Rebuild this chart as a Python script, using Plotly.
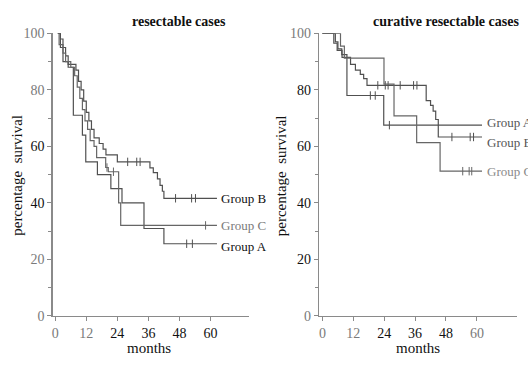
import plotly.graph_objects as go

# ---------------- data ----------------
month_ticks = [0, 12, 24, 36, 48, 60]
surv_ticks = [0, 20, 40, 60, 80, 100]
minor_surv_ticks = [10, 30, 50, 70, 90]

# left panel: resectable cases
left_A_t = [1, 2, 3, 5, 7, 10.5, 11.8, 16.3, 21.5, 25.8, 34.3, 42, 62.5]
left_A_s = [100, 95, 90, 88, 71, 64, 54.5, 50, 45, 40, 30.9, 25.5, 25.5]
left_A_cens_t = [50.8, 53]
left_A_cens_s = [25.5, 25.5]

left_B_t = [1, 2, 3, 4, 5, 8, 9, 10, 11, 12, 13, 14, 15, 17, 18.5, 19.6, 24,
            36.6, 37.9, 39.5, 40.5, 41.4, 42, 62.5]
left_B_s = [100, 98, 95, 92, 89, 87, 83, 80, 76, 72, 69, 66, 63, 61, 59, 57, 54.5,
            52.4, 50.7, 48.5, 46.2, 44.1, 41.6, 41.6]
left_B_cens_t = [28, 31.5, 32.8, 46.5, 52.7, 54.2]
left_B_cens_s = [54.5, 54.5, 54.5, 41.6, 41.6, 41.6]

left_C_t = [1, 1.5, 3, 4, 6, 7.5, 8.5, 9.5, 10.5, 11.5, 12.5, 13.5, 15, 16, 19.5, 20.5,
            24.5, 25.3, 62.5]
left_C_s = [100, 96, 93, 90, 88, 85, 81, 77, 73, 69, 66, 62, 60, 56, 52.5, 51,
            40, 32, 32]
left_C_cens_t = [20, 22.5, 58.1]
left_C_cens_s = [52.5, 51, 32]

# right panel: curative resectable cases
right_A_t = [0, 5, 6, 7.5, 9.5, 23.8, 62]
right_A_s = [100, 97, 94.5, 92.5, 78, 67.5, 67.5]
right_A_cens_t = [18.6, 20.5, 26]
right_A_cens_s = [78, 78, 67.5]

right_B_t = [0, 4.4, 5.7, 7.6, 10.9, 12.8, 14.7, 16, 17.3, 40.3, 42, 43, 44, 45, 62]
right_B_s = [100, 96.5, 94, 91.5, 89, 87, 85.5, 84, 81.6, 76.2, 74.5, 72.5, 69.5,
             63.3, 63.3]
right_B_cens_t = [21.5, 24.4, 25.5, 30.2, 35.4, 36.7, 50.3, 57.4, 58.7]
right_B_cens_s = [81.6, 81.6, 81.6, 81.6, 81.6, 81.6, 63.3, 63.3, 63.3]

right_C_t = [0, 7, 8.5, 23.9, 27.8, 36.6, 45.7, 62]
right_C_s = [100, 95.5, 91.2, 82, 70.8, 61.3, 51.2, 51.2]
right_C_cens_t = [54.5, 57, 58]
right_C_cens_s = [51.2, 51.2, 51.2]

left_labels = ["Group B", "Group C", "Group A"]
left_label_y = [41.6, 32, 24.5]
right_labels = ["Group A", "Group B", "Group C"]
right_label_y = [68.5, 61.5, 51]

panel_titles = ["resectable cases", "curative resectable cases"]

# ---------------- styling ----------------
LINE = "#505050"
AXIS = "#8a8a8a"
GRAY = "#7a7a7a"
SERIF = "Liberation Serif, Times New Roman, serif"

fig = go.Figure()


def add_curve(t, s, ct, cs, xa, ya, color=LINE):
    fig.add_trace(go.Scatter(x=t, y=s, mode="lines", line_shape="hv",
                             line=dict(color=color, width=1.2),
                             xaxis=xa, yaxis=ya, hoverinfo="skip"))
    fig.add_trace(go.Scatter(x=ct, y=cs, mode="markers",
                             marker=dict(symbol="line-ns", size=6,
                                         line=dict(color=color, width=1)),
                             xaxis=xa, yaxis=ya, hoverinfo="skip"))


add_curve(left_A_t, left_A_s, left_A_cens_t, left_A_cens_s, "x", "y")
add_curve(left_B_t, left_B_s, left_B_cens_t, left_B_cens_s, "x", "y")
add_curve(left_C_t, left_C_s, left_C_cens_t, left_C_cens_s, "x", "y", "#666666")
add_curve(right_A_t, right_A_s, right_A_cens_t, right_A_cens_s, "x2", "y2")
add_curve(right_B_t, right_B_s, right_B_cens_t, right_B_cens_s, "x2", "y2")
add_curve(right_C_t, right_C_s, right_C_cens_t, right_C_cens_s, "x2", "y2", "#666666")


def colored(vals, grays):
    out = []
    for v in vals:
        if v in grays:
            out.append("<span style='color:%s'>%d</span>" % (GRAY, v))
        else:
            out.append("%d" % v)
    return out


def xaxis_cfg(domain, rng, grays):
    return dict(domain=domain, range=rng, showline=True, linecolor=AXIS, linewidth=1.5,
                ticks="outside", ticklen=4, tickwidth=1, tickcolor=AXIS,
                tickmode="array", tickvals=month_ticks,
                ticktext=colored(month_ticks, grays),
                showgrid=False, zeroline=False,
                tickfont=dict(family=SERIF, size=14, color="#111"))


def yaxis_cfg(domain, anchor, grays):
    return dict(domain=domain, range=[0, 100], anchor=anchor, showline=True,
                linecolor=AXIS, linewidth=1.5,
                ticks="outside", ticklen=4, tickwidth=1, tickcolor=AXIS,
                tickmode="array", tickvals=surv_ticks,
                ticktext=colored(surv_ticks, grays),
                minor=dict(tickmode="array", tickvals=minor_surv_ticks, ticks="outside",
                           ticklen=3, tickcolor=AXIS, tickwidth=1),
                showgrid=False, zeroline=False,
                tickfont=dict(family=SERIF, size=14, color="#111"))


ydom = [1 - 322 / 365, 1 - 27.5 / 365]
fig.update_layout(
    width=528, height=365, margin=dict(l=0, r=0, t=0, b=0),
    paper_bgcolor="white", plot_bgcolor="white", showlegend=False,
    xaxis=dict(**xaxis_cfg([52 / 528, 248 / 528], [-0.9, 74.7], [0, 12]), anchor="y"),
    yaxis=yaxis_cfg(ydom, "x", [100, 80, 20, 0]),
    xaxis2=dict(**xaxis_cfg([319 / 528, 517 / 528], [-1.2, 75.6], [0, 12, 60]), anchor="y2"),
    yaxis2=yaxis_cfg(ydom, "x2", [100, 0]),
)

ann = []
# group labels
for txt, yv in zip(left_labels, left_label_y):
    ann.append(dict(x=63.2, y=yv, xref="x", yref="y", text=txt, showarrow=False,
                    xanchor="left", yanchor="middle",
                    font=dict(family=SERIF, size=13,
                              color=GRAY if txt == "Group C" else "#111")))
for txt, yv in zip(right_labels, right_label_y):
    ann.append(dict(x=63.0, y=yv, xref="x2", yref="y2", text=txt, showarrow=False,
                    xanchor="left", yanchor="middle",
                    font=dict(family=SERIF, size=13,
                              color="#8a8a8a" if txt == "Group C" else "#555")))


def paper_text(xp, yp, txt, size, angle=0, bold=False):
    if bold:
        txt = "<b>%s</b>" % txt
    return dict(x=xp / 528, y=1 - yp / 365, xref="paper", yref="paper", text=txt,
                showarrow=False, xanchor="center", yanchor="middle", textangle=angle,
                font=dict(family=SERIF, size=size, color="#111"))


# titles
ann.append(paper_text(178, 15, panel_titles[0], 14, bold=True))
ann.append(paper_text(446, 15, panel_titles[1], 14, bold=True))
# axis titles
ann.append(paper_text(148, 356, "months", 15))
ann.append(paper_text(418, 356, "months", 15))
ann.append(paper_text(16, 175, "percentage&nbsp;&nbsp;survival", 15, -90))
ann.append(paper_text(280, 176, "percentage&nbsp;&nbsp;survival", 15, -90))
fig.update_layout(annotations=ann)

fig.write_html("out.html",
               config={"displayModeBar": False, "staticPlot": True},
               post_script="document.body.style.margin='0px';"
                           "document.body.style.overflow='hidden';")
